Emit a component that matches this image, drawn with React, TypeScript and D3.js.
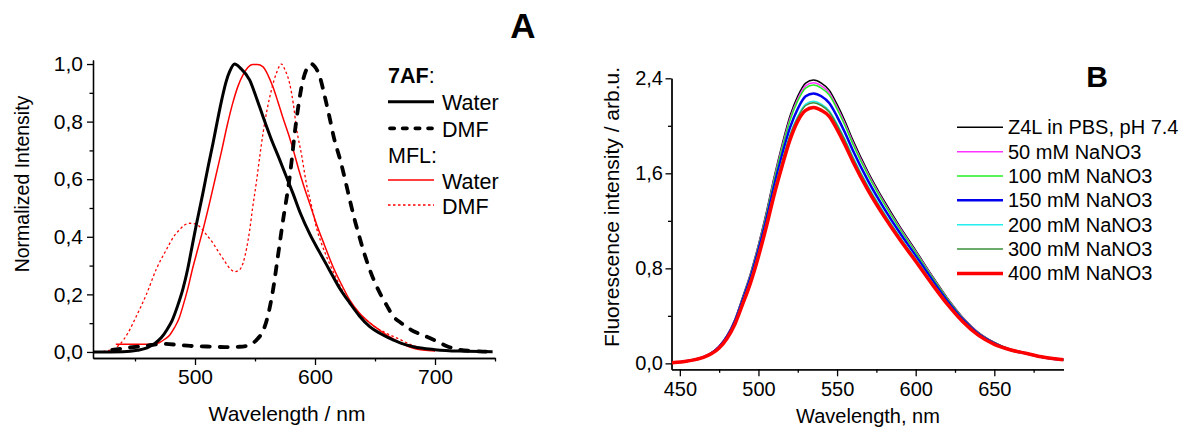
import React, { useEffect, useRef } from 'react'
import * as d3 from 'd3'

/**
 * Panel A: normalized emission spectra ([wavelength nm, intensity])
 */
const af7Water = [
  [415, 0], [440, 0.001], [452, 0.006], [460, 0.014], [466, 0.028], [472, 0.05], [477, 0.08],
  [481, 0.11], [485.5, 0.16], [490, 0.22], [494, 0.29], [497, 0.354], [501, 0.44], [506.5, 0.55],
  [511, 0.645], [515, 0.725], [519, 0.81], [522.5, 0.88], [526, 0.94], [529, 0.975], [533, 1.0], [538, 0.985],
  [545.6, 0.944], [551, 0.885], [556.7, 0.817], [563, 0.745], [570.6, 0.667], [576, 0.61], [581.7, 0.55],
  [588, 0.48], [595.6, 0.41], [604, 0.345], [612, 0.285], [620, 0.225], [629, 0.17], [637, 0.125],
  [645.6, 0.088], [654, 0.065], [662, 0.048], [672, 0.03], [682, 0.018], [700, 0.008], [720, 0.003], [748, 0.001]
]
const af7Dmf = [
  [431, 0.007], [445, 0.015], [460, 0.022], [473, 0.028], [485, 0.025], [496, 0.021], [510, 0.019],
  [525, 0.017], [537, 0.018], [544, 0.022], [548, 0.03], [552, 0.045], [557, 0.076], [561, 0.13],
  [565, 0.215], [569, 0.33], [573, 0.447], [579, 0.61], [584, 0.79], [590, 0.944], [594, 0.99],
  [597, 1.0], [600, 0.99], [604, 0.956], [608, 0.89], [612, 0.817], [616, 0.74], [621, 0.667],
  [625, 0.6], [629, 0.528], [633, 0.46], [637, 0.4], [642, 0.33], [648, 0.26], [654, 0.205],
  [660, 0.16], [665, 0.125], [672, 0.1], [680, 0.077], [693, 0.053], [700, 0.04], [710, 0.02],
  [720, 0.008], [737, 0.002], [750, 0.0]
]
const mflWater = [
  [434, 0.027], [450, 0.027], [465, 0.027], [470, 0.032], [475, 0.045], [479, 0.059], [483, 0.085],
  [487, 0.12], [490, 0.16], [494, 0.22], [498, 0.29], [502.5, 0.36], [507, 0.43], [512, 0.515],
  [517, 0.605], [522, 0.695], [527, 0.79], [531.5, 0.865], [536, 0.925], [540, 0.962], [544, 0.988],
  [548, 0.998], [552, 0.998], [556.7, 0.99], [561, 0.96], [565, 0.92], [569, 0.87], [573, 0.817], [578, 0.755],
  [582, 0.7], [586, 0.64], [590, 0.585], [596, 0.51], [601, 0.447], [608, 0.37], [615, 0.296],
  [622, 0.235], [629, 0.18], [637, 0.135], [646, 0.1], [654, 0.075], [662, 0.053], [672, 0.03],
  [682, 0.013], [700, 0.003]
]
const mflDmf = [
  [415, 0.0], [425, 0.003], [432, 0.01], [437, 0.025], [444, 0.065], [451, 0.123], [459.5, 0.2],
  [468, 0.29], [476, 0.354], [483, 0.405], [487, 0.424], [491, 0.44], [495.6, 0.447], [500, 0.445],
  [504, 0.435], [509, 0.41], [515, 0.378], [520, 0.345], [524, 0.32], [529, 0.29], [533, 0.279],
  [537, 0.285], [540, 0.308], [543, 0.36], [545.6, 0.424], [548, 0.5], [551, 0.585], [554, 0.68],
  [556.7, 0.76], [560, 0.84], [563.7, 0.91], [568, 0.97], [572, 1.0], [575, 0.98], [579, 0.93],
  [582, 0.86], [584.5, 0.78], [589, 0.68], [592.8, 0.585], [597, 0.51], [601, 0.435], [606, 0.37],
  [612, 0.308], [619, 0.245], [626, 0.19], [634, 0.145], [643, 0.11], [651, 0.085], [659.5, 0.065],
  [670, 0.045], [680, 0.025], [690, 0.012], [700, 0.005]
]

const aXTicks = [500, 600, 700]
const aXMinor = [450, 550, 650, 750]
const aYTicks = [0, 0.2, 0.4, 0.6, 0.8, 1.0]
const aYMinor = [0.1, 0.3, 0.5, 0.7, 0.9]

/**
 * Panel B: fluorescence of Z4L with NaNO3 (arb.u.)
 */
const bNm = [445, 455, 465, 470, 475, 480, 485, 490, 495, 500, 505, 510, 515, 520, 525, 530, 535, 540,
  545, 550, 555, 560, 570, 580, 590, 600, 610, 620, 630, 640, 650, 660, 670, 680, 694]
const z4l = [0.005, 0.022, 0.055, 0.088, 0.145, 0.235, 0.37, 0.56, 0.76, 1.0, 1.27, 1.57, 1.84, 2.08, 2.25,
  2.36, 2.385, 2.36, 2.30, 2.18, 2.04, 1.882, 1.605, 1.367, 1.151, 0.952, 0.747, 0.553, 0.387, 0.26, 0.177, 0.12, 0.088, 0.057, 0.031]
const na50 = [0.005, 0.022, 0.054, 0.087, 0.144, 0.233, 0.366, 0.554, 0.752, 0.99, 1.257, 1.554, 1.822, 2.059, 2.228,
  2.336, 2.363, 2.336, 2.277, 2.158, 2.02, 1.864, 1.59, 1.354, 1.14, 0.943, 0.74, 0.548, 0.384, 0.258, 0.175, 0.119, 0.087, 0.056, 0.031]
const na100 = [0.005, 0.022, 0.054, 0.086, 0.142, 0.231, 0.363, 0.55, 0.746, 0.982, 1.247, 1.542, 1.807, 2.043, 2.21,
  2.318, 2.343, 2.318, 2.259, 2.141, 2.003, 1.848, 1.576, 1.342, 1.13, 0.935, 0.734, 0.544, 0.38, 0.255, 0.174, 0.118, 0.086, 0.056, 0.03]
const na150 = [0.005, 0.021, 0.052, 0.084, 0.138, 0.224, 0.353, 0.534, 0.724, 0.953, 1.21, 1.496, 1.754, 1.982, 2.144,
  2.249, 2.273, 2.249, 2.192, 2.078, 1.944, 1.794, 1.53, 1.303, 1.097, 0.907, 0.712, 0.528, 0.369, 0.248, 0.169, 0.114, 0.084, 0.054, 0.03]
const na200 = [0.005, 0.02, 0.051, 0.081, 0.134, 0.217, 0.342, 0.518, 0.703, 0.925, 1.175, 1.452, 1.702, 1.924, 2.081,
  2.183, 2.206, 2.183, 2.128, 2.017, 1.887, 1.741, 1.485, 1.265, 1.065, 0.881, 0.691, 0.512, 0.358, 0.241, 0.164, 0.111, 0.081, 0.053, 0.029]
const na300 = [0.005, 0.02, 0.051, 0.081, 0.133, 0.216, 0.34, 0.515, 0.699, 0.92, 1.168, 1.444, 1.693, 1.914, 2.07,
  2.171, 2.194, 2.171, 2.116, 2.006, 1.877, 1.731, 1.476, 1.257, 1.059, 0.875, 0.687, 0.509, 0.356, 0.239, 0.163, 0.11, 0.081, 0.052, 0.029]
const na400 = [0.005, 0.02, 0.05, 0.08, 0.13, 0.21, 0.33, 0.5, 0.68, 0.9, 1.15, 1.42, 1.66, 1.88, 2.04,
  2.13, 2.155, 2.13, 2.08, 1.97, 1.84, 1.7, 1.45, 1.235, 1.04, 0.86, 0.675, 0.5, 0.35, 0.235, 0.16, 0.115, 0.085, 0.055, 0.03]

const bSeries = [z4l, na50, na100, na150, na200, na300, na400]
const bLabels = ['Z4L in PBS, pH 7.4', '50 mM NaNO3', '100 mM NaNO3', '150 mM NaNO3', '200 mM NaNO3', '300 mM NaNO3', '400 mM NaNO3']
const bColors = ['#000000', '#ff33ff', '#22ee22', '#0000ee', '#22eeee', '#3a8f3a', '#ff0000']
const bWidths = [1.5, 1.5, 1.5, 2.5, 1.5, 1.5, 3.5]

const bXTicks = [450, 500, 550, 600, 650]
const bXMinor = [475, 525, 575, 625, 675]
const bYTicks = [0, 0.8, 1.6, 2.4]
const bYMinor = [0.4, 1.2, 2.0]

const font = 'Liberation Sans, Arial, Helvetica, sans-serif'
const comma = (d: number) => d3.format('.1f')(d).replace('.', ',')

// axis styling helper
const styleAxis = (g: any, size: number) => {
  g.attr('font-size', size).attr('font-family', font)
  g.selectAll('line').attr('stroke', '#000').attr('stroke-width', 1.3)
  g.selectAll('path').attr('stroke', '#000').attr('stroke-width', 1.3)
  g.selectAll('text').attr('fill', '#000')
}

export default function App () {
  const ref = useRef<SVGSVGElement>(null)

  useEffect(() => {
    const svg = d3.select(ref.current)
    svg.selectAll('*').remove()

    /**
     * 1. Panel A
     */
    const xA = d3.scaleLinear().domain([415, 750]).range([93, 495])
    const yA = d3.scaleLinear().domain([-0.021, 1.014]).range([358, 60])
    const lineA = d3.line<number[]>().x(d => xA(d[0])).y(d => yA(d[1])).curve(d3.curveMonotoneX)

    const gA = svg.append('g')
    gA.append('g').attr('transform', 'translate(0,358)')
      .call(d3.axisBottom(xA).tickValues(aXMinor).tickSize(3.5).tickSizeOuter(0).tickFormat(() => ''))
      .call(g => styleAxis(g, 21))
    gA.append('g').attr('transform', 'translate(0,358)')
      .call(d3.axisBottom(xA).tickValues(aXTicks).tickSize(7).tickSizeOuter(0).tickPadding(4).tickFormat(d3.format('d')))
      .call(g => styleAxis(g, 21))
    gA.append('g').attr('transform', 'translate(93,0)')
      .call(d3.axisLeft(yA).tickValues(aYMinor).tickSize(3.5).tickSizeOuter(0).tickFormat(() => ''))
      .call(g => styleAxis(g, 21))
    gA.append('g').attr('transform', 'translate(93,0)')
      .call(d3.axisLeft(yA).tickValues(aYTicks).tickSize(6).tickSizeOuter(0).tickPadding(4).tickFormat(d => comma(+d)))
      .call(g => styleAxis(g, 21))

    const aLines = [
      { data: mflDmf, color: '#ff0000', width: 1.3, dash: '2.5,2.5', legDash: '2.5,2.5', cap: 'butt' },
      { data: mflWater, color: '#ff0000', width: 1.5, dash: null, legDash: null, cap: 'butt' },
      { data: af7Dmf, color: '#000000', width: 3.8, dash: '8,10', legDash: '4.2,8.5', cap: 'round' },
      { data: af7Water, color: '#000000', width: 3, dash: null, legDash: null, cap: 'butt' }
    ]
    gA.selectAll('.a-line').data(aLines).enter()
      .append('path')
      .attr('class', 'a-line')
      .attr('d', d => lineA(d.data))
      .attr('fill', 'none')
      .attr('stroke', d => d.color)
      .attr('stroke-width', d => d.width)
      .attr('stroke-dasharray', d => d.dash)
      .attr('stroke-linecap', d => d.cap)
      .attr('stroke-linejoin', 'round')

    // legend A
    const legA = gA.append('g').attr('font-family', font).attr('font-size', 21.5)
    const head1 = legA.append('text').attr('x', 388).attr('y', 83)
    head1.append('tspan').attr('font-weight', 'bold').text('7AF')
    head1.append('tspan').text(':')
    legA.append('text').attr('x', 388).attr('y', 163).text('MFL:')
    const legRows = [
      { y: 101.7, label: 'Water', style: aLines[3] },
      { y: 128.3, label: 'DMF', style: aLines[2] },
      { y: 180, label: 'Water', style: aLines[1] },
      { y: 205, label: 'DMF', style: aLines[0] }
    ]
    legRows.forEach(r => {
      const round = r.style.cap === 'round'
      legA.append('line')
        .attr('x1', round ? 390 : 388).attr('x2', round ? 432 : 434).attr('y1', r.y).attr('y2', r.y)
        .attr('stroke', r.style.color).attr('stroke-width', r.style.width)
        .attr('stroke-dasharray', r.style.legDash).attr('stroke-linecap', r.style.cap)
      legA.append('text').attr('x', 442).attr('y', r.y + 8.5).text(r.label)
    })

    gA.append('text')
      .attr('transform', 'translate(29,184) rotate(-90)')
      .attr('text-anchor', 'middle').attr('font-family', font).attr('font-size', 19.5)
      .text('Normalized Intensity')
    gA.append('text').attr('x', 287).attr('y', 421)
      .attr('text-anchor', 'middle').attr('font-family', font).attr('font-size', 21)
      .text('Wavelength / nm')

    svg.append('text').attr('x', 523).attr('y', 38)
      .attr('text-anchor', 'middle').attr('font-family', font).attr('font-size', 35).attr('font-weight', 'bold')
      .text('A')

    /**
     * 2. Panel B
     */
    const xB = d3.scaleLinear().domain([444.7, 694]).range([671.5, 1063.5])
    const yB = d3.scaleLinear().domain([-0.05, 2.4]).range([369.3, 78.3])
    const lineB = d3.line<number>().x((d, i) => xB(bNm[i])).y(d => yB(d)).curve(d3.curveMonotoneX)

    const gB = svg.append('g')
    gB.append('g').attr('transform', 'translate(0,369.3)')
      .call(d3.axisBottom(xB).tickValues(bXMinor).tickSize(3.5).tickSizeOuter(0).tickFormat(() => ''))
      .call(g => styleAxis(g, 20))
    gB.append('g').attr('transform', 'translate(0,369.3)')
      .call(d3.axisBottom(xB).tickValues(bXTicks).tickSize(7).tickSizeOuter(0).tickPadding(6).tickFormat(d3.format('d')))
      .call(g => styleAxis(g, 20))
    gB.append('g').attr('transform', 'translate(671.5,0)')
      .call(d3.axisLeft(yB).tickValues(bYMinor).tickSize(3.5).tickSizeOuter(0).tickFormat(() => ''))
      .call(g => styleAxis(g, 20))
    gB.append('g').attr('transform', 'translate(671.5,0)')
      .call(d3.axisLeft(yB).tickValues(bYTicks).tickSize(6).tickSizeOuter(0).tickPadding(2.5).tickFormat(d => comma(+d)))
      .call(g => styleAxis(g, 20))

    gB.selectAll('.b-line').data(bSeries).enter()
      .append('path')
      .attr('class', 'b-line')
      .attr('d', d => lineB(d))
      .attr('fill', 'none')
      .attr('stroke', (d, i) => bColors[i])
      .attr('stroke-width', (d, i) => bWidths[i])
      .attr('stroke-linejoin', 'round')

    // legend B
    const legB = gB.append('g').attr('font-family', font).attr('font-size', 20)
    bLabels.forEach((label, i) => {
      const y = 127.3 + i * 24.35
      legB.append('line')
        .attr('x1', 957).attr('x2', 1003).attr('y1', y).attr('y2', y)
        .attr('stroke', bColors[i]).attr('stroke-width', bWidths[i])
      legB.append('text').attr('x', 1008).attr('y', y + 7).text(label)
    })

    gB.append('text')
      .attr('transform', 'translate(619,207) rotate(-90)')
      .attr('text-anchor', 'middle').attr('font-family', font).attr('font-size', 21)
      .text('Fluorescence intensity / arb.u.')
    gB.append('text').attr('x', 868).attr('y', 423)
      .attr('text-anchor', 'middle').attr('font-family', font).attr('font-size', 20)
      .text('Wavelength, nm')

    svg.append('text').attr('x', 1097).attr('y', 87)
      .attr('text-anchor', 'middle').attr('font-family', font).attr('font-size', 30).attr('font-weight', 'bold')
      .text('B')
  }, [])

  return (
    <svg ref={ref} width={1182} height={429}
      style={{ position: 'absolute', left: 0, top: 0, background: '#fff' }} />
  )
}
